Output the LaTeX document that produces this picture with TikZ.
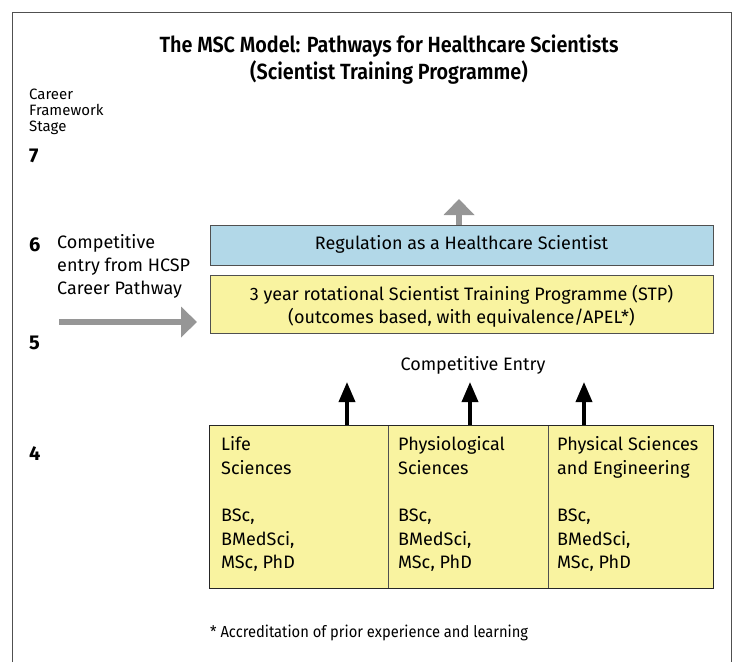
\documentclass[tikz,border=0pt]{standalone}
\usepackage{fontspec}
\setmainfont{Fira Sans}
\newfontfamily\titlefont[FakeStretch=0.9]{Fira Sans SemiBold}
\newfontfamily\notefont[FakeStretch=0.92]{Fira Sans}
\usetikzlibrary{arrows.meta}
\definecolor{boxblue}{RGB}{178,216,232}
\definecolor{boxyellow}{RGB}{249,243,160}
\definecolor{arrgray}{RGB}{150,150,150}
\definecolor{edge}{RGB}{80,80,80}
\tikzset{
  txt/.style={inner sep=0pt, font=\fontsize{18}{22}\selectfont, anchor=base west},
  smalltxt/.style={inner sep=0pt, font=\fontsize{15}{18}\selectfont, anchor=base west},
  stagenum/.style={inner sep=0pt, font=\fontsize{20}{24}\selectfont\bfseries, anchor=base west},
  bar/.style={draw=edge, line width=1.4pt, inner sep=0pt, anchor=north west},
  cell/.style={draw=edge, line width=1pt, fill=boxyellow, inner sep=0pt, anchor=north west, minimum height=163},
  fatarrow/.style={draw=arrgray, line width=6pt, -{Triangle[width=30pt,length=16pt]}},
  thinarrow/.style={draw=black, line width=3.5pt, -{Triangle[width=16pt,length=20pt]}},
}
\begin{document}
\begin{tikzpicture}[x=1pt,y=-1pt]
\useasboundingbox (0,0) rectangle (736,662);
% frame
\draw[edge, line width=1.4pt] (12.5,662) -- (12.5,12.5) -- (731.5,12.5) -- (731.5,662);
% title
\node[inner sep=0pt, anchor=base, font=\fontsize{22}{26}\selectfont\titlefont] (t1) at (389,52) {The MSC Model: Pathways for Healthcare Scientists};
\node[inner sep=0pt, anchor=base, font=\fontsize{22}{26}\selectfont\titlefont] (t2) at (389,79) {(Scientist Training Programme)};
% stage label
\node[smalltxt] (cf1) at (29,99) {Career};
\node[smalltxt] (cf2) at (29,115) {Framework};
\node[smalltxt] (cf3) at (29,131) {Stage};
\node[stagenum] (s7) at (29,162) {7};
\node[stagenum] (s6) at (29,251) {6};
\node[stagenum] (s5) at (29,349) {5};
\node[stagenum] (s4) at (29,460) {4};
% competitive entry from HCSP
\node[txt] (h1) at (57,248) {Competitive};
\node[txt] (h2) at (57,271) {entry from HCSP};
\node[txt] (h3) at (57,294) {Career Pathway};
% boxes
\node[bar, fill=boxblue, minimum width=503, minimum height=40] (reg) at (210,225) {};
\node[inner sep=0pt, anchor=base, font=\fontsize{18}{22}\selectfont] (regt) at (461.5,249) {Regulation as a Healthcare Scientist};
\node[bar, fill=boxyellow, minimum width=503, minimum height=58] (stp) at (210,275) {};
\node[inner sep=0pt, anchor=base, font=\fontsize{18}{22}\selectfont] (stp1) at (461.5,300) {3 year rotational Scientist Training Programme (STP)};
\node[inner sep=0pt, anchor=base, font=\fontsize{18}{22}\selectfont] (stp2) at (461.5,323) {(outcomes based, with equivalence/APEL*)};
% arrows
\coordinate (hs) at (59,322);
\coordinate (he) at (197,322);
\draw[fatarrow] (hs) -- (he);
\coordinate (ue) at (459,199);
\draw[fatarrow] (reg.north -| ue) -- (ue);
% competitive entry
\node[inner sep=0pt, anchor=base, font=\fontsize{18}{22}\selectfont] (ce) at (473,370) {Competitive Entry};
% cells
\node[cell, minimum width=179] (c1) at (209,425) {};
\node[cell, minimum width=160] (c2) at (388,425) {};
\node[cell, minimum width=165] (c3) at (548,425) {};
\draw[black!85, line width=1pt] (209,425) rectangle (713,588);
\coordinate (a1) at (347,382);
\coordinate (a2) at (470,382);
\coordinate (a3) at (584,382);
\draw[thinarrow] (c1.north -| a1) -- (a1);
\draw[thinarrow] (c2.north -| a2) -- (a2);
\draw[thinarrow] (c3.north -| a3) -- (a3);
% cell texts
\node[txt] (l1) at (221,450) {Life};
\node[txt] (l2) at (221,474) {Sciences};
\node[txt] (l3) at (221,521) {BSc,};
\node[txt] (l4) at (221,545) {BMedSci,};
\node[txt] (l5) at (221,568) {MSc, PhD};
\node[txt] (p1) at (398,450) {Physiological};
\node[txt] (p2) at (398,474) {Sciences};
\node[txt] (p3) at (398,521) {BSc,};
\node[txt] (p4) at (398,545) {BMedSci,};
\node[txt] (p5) at (398,568) {MSc, PhD};
\node[txt] (e1) at (557,450) {Physical Sciences};
\node[txt] (e2) at (557,474) {and Engineering};
\node[txt] (e3) at (557,521) {BSc,};
\node[txt] (e4) at (557,545) {BMedSci,};
\node[txt] (e5) at (557,568) {MSc, PhD};
% footnote
\node[inner sep=0pt, anchor=base west, font=\fontsize{16}{18}\selectfont\notefont] (fn) at (210,637) {* Accreditation of prior experience and learning};
\end{tikzpicture}
\end{document}
